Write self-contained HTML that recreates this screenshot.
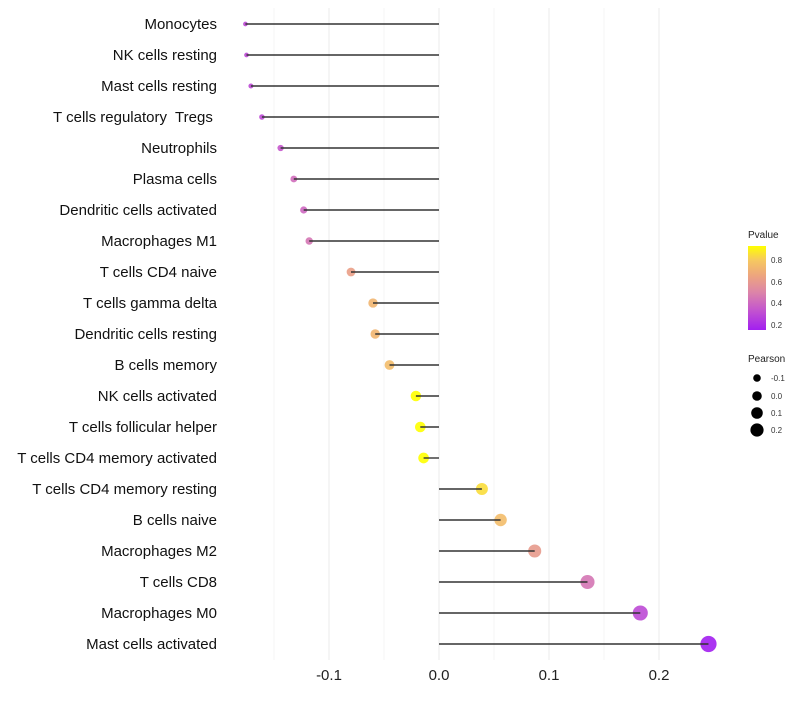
<!DOCTYPE html>
<html><head><meta charset="utf-8"><style>
body{margin:0;background:#fff;font-family:"Liberation Sans",sans-serif}
text{white-space:pre}
</style></head><body>
<svg id="chart" width="800" height="700" xmlns="http://www.w3.org/2000/svg" font-family="Liberation Sans, sans-serif">
<g id="grid"></g>
<g id="points"></g>
<g id="marks"></g>
<g id="ylabels"></g>
<g id="xlabels"></g>
<g>
<defs><linearGradient id="pg" x1="0" y1="1" x2="0" y2="0">
<stop offset="0" stop-color="#a21ff0"/><stop offset="0.25" stop-color="#c558cc"/><stop offset="0.45" stop-color="#dc85a8"/><stop offset="0.65" stop-color="#eda57e"/><stop offset="0.83" stop-color="#f6c860"/><stop offset="1" stop-color="#ffff00"/></linearGradient></defs>
<text x="748" y="238" font-size="10" fill="#222">Pvalue</text>
<rect x="748" y="246" width="18" height="84" fill="url(#pg)"/>
<text x="771" y="263" font-size="8" fill="#333">0.8</text>
<text x="771" y="285" font-size="8" fill="#333">0.6</text>
<text x="771" y="306" font-size="8" fill="#333">0.4</text>
<text x="771" y="328" font-size="8" fill="#333">0.2</text>
</g>
<g>
<text x="748" y="362" font-size="10" fill="#222">Pearson</text>
<circle cx="757" cy="378" r="3.8" fill="#000"/><text x="771" y="381" font-size="8" fill="#333">-0.1</text>
<circle cx="757" cy="396" r="4.8" fill="#000"/><text x="771" y="399" font-size="8" fill="#333">0.0</text>
<circle cx="757" cy="413" r="5.8" fill="#000"/><text x="771" y="416" font-size="8" fill="#333">0.1</text>
<circle cx="757" cy="430" r="6.6" fill="#000"/><text x="771" y="433" font-size="8" fill="#333">0.2</text>
</g>
</svg>
<script>
const categories=["Monocytes","NK cells resting","Mast cells resting","T cells regulatory  Tregs ","Neutrophils","Plasma cells","Dendritic cells activated","Macrophages M1","T cells CD4 naive","T cells gamma delta","Dendritic cells resting","B cells memory","NK cells activated","T cells follicular helper","T cells CD4 memory activated","T cells CD4 memory resting","B cells naive","Macrophages M2","T cells CD8","Macrophages M0","Mast cells activated"];
const pearson=[-0.176,-0.175,-0.171,-0.161,-0.144,-0.132,-0.123,-0.118,-0.080,-0.060,-0.058,-0.045,-0.021,-0.017,-0.014,0.039,0.056,0.087,0.135,0.183,0.245];
const pvalue=[0.3,0.3,0.3,0.3,0.35,0.42,0.4,0.45,0.62,0.72,0.72,0.75,0.93,0.93,0.93,0.85,0.75,0.6,0.45,0.3,0.15];
const xTicks=[-0.1,0,0.1,0.2];
const xTickLabels=["-0.1","0.0","0.1","0.2"];
const minorTicks=[-0.15,-0.05,0.05,0.15];
const NS="http://www.w3.org/2000/svg";
const x=v=>439+v*1100;
const y=i=>24+i*31;
const r=v=>Math.sqrt(Math.max(1,30.5+142.5*v));
const stops=[[0.15,[162,31,240]],[0.35,[197,88,204]],[0.5,[220,133,168]],[0.65,[237,165,126]],[0.8,[246,200,96]],[0.93,[255,255,0]]];
function col(p){if(p<=stops[0][0])return "rgb("+stops[0][1]+")";for(let k=1;k<stops.length;k++){if(p<=stops[k][0]){const t=(p-stops[k-1][0])/(stops[k][0]-stops[k-1][0]);const c=stops[k-1][1].map((a,j)=>Math.round(a+(stops[k][1][j]-a)*t));return "rgb("+c+")";}}return "rgb("+stops[stops.length-1][1]+")";}
function mk(t,a,p){const e=document.createElementNS(NS,t);for(const k in a)e.setAttribute(k,a[k]);p.appendChild(e);return e;}
const grid=document.getElementById('grid'),marks=document.getElementById('marks'),pts=document.getElementById('points'),yl=document.getElementById('ylabels'),xl=document.getElementById('xlabels');
minorTicks.forEach(v=>{const l=mk('line',{x1:x(v),x2:x(v),y1:8,y2:660,stroke:'#f4f4f4','stroke-width':1},grid);

});
xTicks.forEach((v,i)=>{const l=mk('line',{x1:x(v),x2:x(v),y1:8,y2:660,stroke:'#ebebeb','stroke-width':1},grid);


const t=mk('text',{x:x(v),y:680,'font-size':15,'text-anchor':'middle',fill:'#222'},xl);t.textContent=xTickLabels[i];

});
categories.forEach((c,i)=>{const t=mk('text',{x:217,y:y(i)+5,'font-size':15,'text-anchor':'end',fill:'#111'},yl);t.textContent=c;


const d=mk('circle',{cx:x(pearson[i]),cy:y(i),r:r(pearson[i]),fill:col(pvalue[i]),'fill-opacity':0.9},pts);


const l=mk('line',{x1:x(0),x2:x(pearson[i]),y1:y(i),y2:y(i),stroke:'#333','stroke-width':1.4},marks);

});
</script>
</body></html>
